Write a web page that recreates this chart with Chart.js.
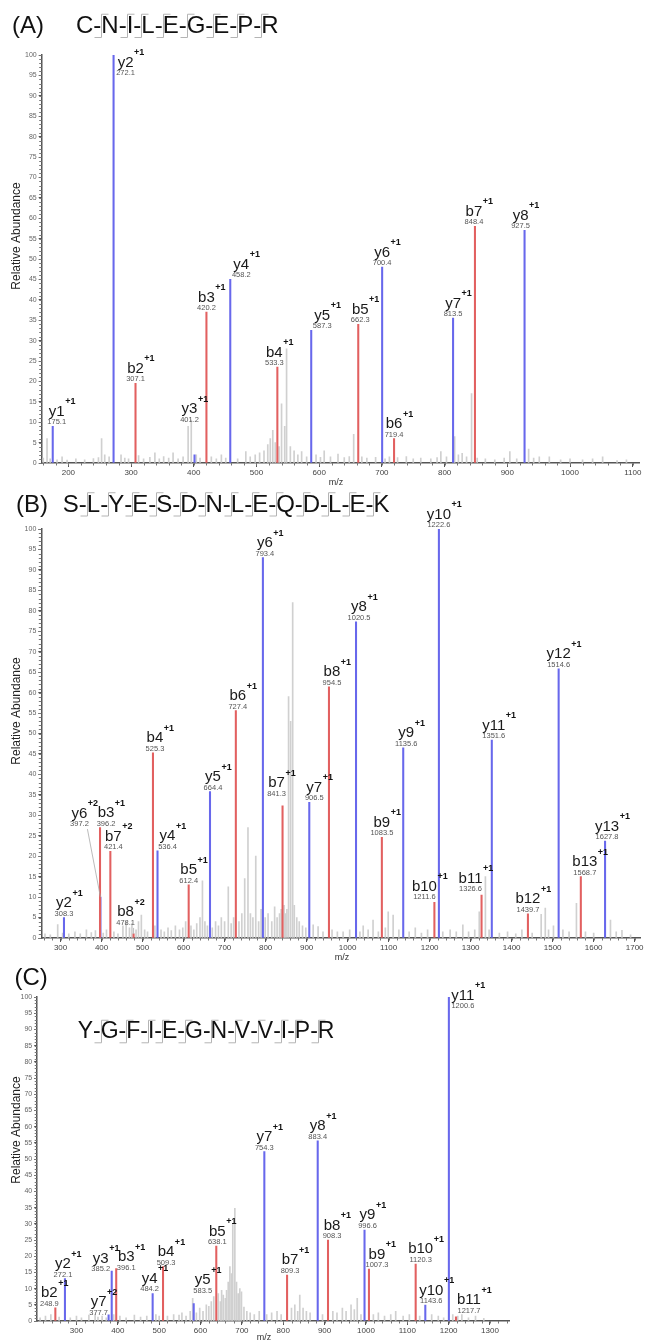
<!DOCTYPE html>
<html lang="en">
<head>
<meta charset="UTF-8">
<title>MS/MS spectra</title>
<script src="https://cdn.jsdelivr.net/npm/chart.js"></script>
<style>
  body { margin: 0; background: #fff; width: 647px; height: 1344px; overflow: hidden; position: relative; }
  canvas { position: absolute; left: 0; }
</style>
</head>
<body>
<canvas id="chartA" width="647" height="490" style="top:0"></canvas>
<canvas id="chartB" width="647" height="470" style="top:490px"></canvas>
<canvas id="chartC" width="647" height="384" style="top:960px"></canvas>
<script>
const FONT = '"Liberation Sans", Arial, Helvetica, sans-serif';
const RED = 'rgb(226,96,96)';
const BLUE = 'rgb(104,104,236)';
const GRAY = 'rgb(208,208,208)';

const yTicks = [0, 5, 10, 15, 20, 25, 30, 35, 40, 45, 50, 55, 60, 65, 70, 75, 80, 85, 90, 95, 100];

// (A) C-N-I-L-E-G-E-P-R
const seqA = ['C', 'N', 'I', 'L', 'E', 'G', 'E', 'P', 'R'];
const ionA = ['y1', 'y2', 'b2', 'y3', 'b3', 'y4', 'b4', 'y5', 'b5', 'y6', 'b6', 'y7', 'b7', 'y8'];
const chargeA = ['+1', '+1', '+1', '+1', '+1', '+1', '+1', '+1', '+1', '+1', '+1', '+1', '+1', '+1'];
const ionMzA = [175.1, 272.1, 307.1, 401.2, 420.2, 458.2, 533.3, 587.3, 662.3, 700.4, 719.4, 813.5, 848.4, 927.5];
const ionIntA = [9, 100, 19.5, 2, 37, 45, 23.5, 32.5, 34, 48, 6, 35.5, 58, 57];
const noiseMzA = [160, 166, 171, 182, 190, 198, 212, 226, 240, 248, 253, 258, 265, 284, 290, 296, 312, 320, 330, 338,
  345, 352, 360, 367, 375, 383, 391, 396, 404, 410, 428, 436, 444, 451, 470, 483, 490, 498, 505, 512,
  518, 522, 526, 530, 536, 540, 545, 548, 554, 560, 566, 572, 580, 595, 602, 608, 618, 630, 640, 648,
  655, 668, 676, 690, 705, 712, 725, 739, 750, 762, 778, 788, 794, 803, 816, 822, 828, 835, 843, 852,
  865, 880, 895, 904, 915, 934, 942, 951, 967, 985, 1000, 1020, 1036, 1052, 1075, 1090];
const noiseIntA = [1.2, 6, 1, 0.8, 1.5, 0.7, 1, 0.8, 1.1, 1.3, 6, 2, 1.5, 2, 1.2, 1, 1.8, 1, 1.4, 2.5,
  1, 1.6, 1.2, 2.5, 1, 1.5, 9, 10.5, 2, 1.2, 1.5, 1, 2, 1.2, 1, 2.8, 1.5, 2, 2.5, 3,
  4.5, 6, 8, 5, 4, 14.5, 9, 28, 4, 3, 2, 2.8, 1.5, 2, 1.4, 3, 1.5, 2.2, 1.3, 1.6,
  7, 1.5, 1.2, 1.4, 1, 1.5, 1.3, 1.6, 1, 1.2, 1, 1.3, 2.8, 1.5, 6.5, 2, 2.4, 1.5, 17, 1.2,
  1, 0.8, 1.2, 2.8, 1, 3.4, 1.2, 1.5, 1.5, 0.8, 1, 0.8, 1, 1.5, 0.6, 0.8];
const xTicksA = [200, 300, 400, 500, 600, 700, 800, 900, 1000, 1100];

// (B) S-L-Y-E-S-D-N-L-E-Q-D-L-E-K
const seqB = ['S', 'L', 'Y', 'E', 'S', 'D', 'N', 'L', 'E', 'Q', 'D', 'L', 'E', 'K'];
const ionB = ['y2', 'y6', 'b3', 'b7', 'b8', 'b4', 'y4', 'b5', 'y5', 'b6', 'y6', 'b7', 'y7', 'b8', 'y8', 'b9', 'y9',
  'b10', 'y10', 'b11', 'y11', 'b12', 'y12', 'b13', 'y13'];
const chargeB = ['+1', '+2', '+1', '+2', '+2', '+1', '+1', '+1', '+1', '+1', '+1', '+1', '+1', '+1', '+1', '+1', '+1',
  '+1', '+1', '+1', '+1', '+1', '+1', '+1', '+1'];
const ionMzB = [308.3, 397.2, 396.2, 421.4, 478.1, 525.3, 536.4, 612.4, 664.4, 727.4, 793.4, 841.3, 906.5, 954.5,
  1020.5, 1083.5, 1135.6, 1211.6, 1222.6, 1326.6, 1351.6, 1439.7, 1514.6, 1568.7, 1627.8];
const ionIntB = [5, 10, 27, 21.2, 1, 45.3, 21.3, 13, 35.8, 55.6, 93, 32.3, 33.2, 61.4, 77.3, 24.6, 46.5, 8.7, 100,
  10.5, 48.4, 5.9, 65.8, 15, 23.7];
const noiseMzB = [262, 275, 293, 305, 320, 335, 348, 363, 375, 385, 404, 412, 430, 440, 452, 460, 468, 474, 484, 490,
  497, 505, 512, 530, 545, 553, 562, 570, 580, 590, 598, 605, 618, 625, 632, 640, 646, 652, 658, 670,
  678, 685, 692, 700, 709, 716, 722, 735, 742, 749, 757, 763, 769, 776, 783, 789, 799, 806, 815, 822,
  828, 834, 838, 845, 848, 852, 856, 861, 866, 870, 876, 882, 890, 898, 916, 928, 940, 962, 975, 989,
  1005, 1030, 1038, 1050, 1062, 1075, 1092, 1099, 1111, 1125, 1150, 1165, 1180, 1195, 1232, 1250, 1265, 1281, 1295, 1310,
  1321, 1336, 1345, 1370, 1390, 1410, 1425, 1450, 1472, 1482, 1490, 1502, 1525, 1540, 1558, 1580, 1600, 1641, 1655, 1669,
  1690];
const noiseIntB = [1, 0.8, 3.3, 1.2, 1, 1.5, 1, 2, 1.3, 1.8, 1.2, 2, 1.5, 1, 3, 4, 2.5, 3.5, 2, 4,
  5.6, 2, 1.5, 3, 2, 1.5, 2.5, 1.8, 3, 2, 2.5, 4, 3, 2, 3.5, 5, 14, 4, 3, 2.5,
  4, 3, 5, 4, 12.5, 3.5, 5, 4, 6, 14.5, 27, 6, 5, 20, 4, 7, 5, 6, 4, 7.6,
  5, 6, 7, 8, 6, 7, 59, 53, 82, 8, 5, 4, 3, 2.5, 3.2, 2.8, 1.5, 2, 1.5, 1.5,
  2, 1.5, 3, 2, 4.4, 1.5, 2.5, 6.4, 5.6, 2, 1.5, 2.5, 1.2, 2, 1.5, 2, 1.5, 3.2, 1.5, 2,
  6.4, 15, 2, 1.2, 1.5, 1, 2, 1.2, 5.8, 7.3, 2, 3, 2, 1.5, 8.5, 1.5, 1.2, 4.4, 1.5, 1.9,
  0.8];
const xTicksB = [300, 400, 500, 600, 700, 800, 900, 1000, 1100, 1200, 1300, 1400, 1500, 1600, 1700];

// (C) Y-G-F-I-E-G-N-V-V-I-P-R
const seqC = ['Y', 'G', 'F', 'I', 'E', 'G', 'N', 'V', 'V', 'I', 'P', 'R'];
const ionC = ['b2', 'y2', 'y7', 'y3', 'b3', 'y4', 'b4', 'y5', 'b5', 'y7', 'b7', 'y8', 'b8', 'y9', 'b9', 'b10', 'y10', 'y11', 'b11'];
const chargeC = ['+1', '+1', '+2', '+1', '+1', '+1', '+1', '+1', '+1', '+1', '+1', '+1', '+1', '+1', '+1', '+1', '+1', '+1', '+1'];
const ionMzC = [248.9, 272.1, 377.7, 385.2, 396.1, 484.2, 509.3, 583.5, 638.1, 754.3, 809.3, 883.4, 908.3, 996.6,
  1007.3, 1120.3, 1143.6, 1200.6, 1217.7];
const ionIntC = [4.1, 13.1, 1.9, 15.4, 16.2, 8.5, 16.8, 5.4, 23.1, 52.3, 14.2, 55.6, 25, 28.1, 16, 17.6, 4.9, 100, 1.3];
const noiseMzC = [212, 225, 238, 258, 285, 300, 312, 330, 345, 352, 362, 372, 390, 405, 420, 440, 455, 470, 492, 500,
  520, 535, 548, 555, 565, 575, 581, 590, 598, 606, 614, 620, 626, 632, 643, 648, 651, 655, 660, 663,
  667, 671, 675, 678, 683, 687, 691, 695, 699, 705, 712, 720, 730, 742, 760, 772, 785, 795, 820, 828,
  835, 840, 848, 856, 865, 895, 920, 930, 943, 952, 964, 972, 979, 988, 1018, 1030, 1045, 1060, 1072, 1090,
  1105, 1130, 1159, 1175, 1188, 1210, 1222, 1232, 1248, 1265, 1285];
const noiseIntC = [1, 1.5, 2, 1.2, 1, 1.5, 1, 1.8, 2, 1.2, 1.5, 1, 2, 1.5, 1, 1.8, 1.2, 1.5, 2, 1.5,
  1.5, 2, 1.8, 2.5, 1.5, 3, 7, 2.5, 4, 3, 5, 4.5, 6, 7.5, 8.5, 6, 9.5, 8, 7, 9.5,
  12, 16.8, 14.6, 30, 34.8, 12, 8.5, 10, 9, 4.3, 3, 2.5, 2, 3, 2, 2.5, 3, 2, 4, 5,
  3, 8, 4, 3, 2.5, 2, 3, 2.5, 4, 3, 5, 3.5, 7, 2, 2, 2.5, 1.5, 2, 3, 1.5,
  2, 1.5, 2, 1.5, 1, 2, 1.5, 2, 1, 1.5, 0.8];
const xTicksC = [300, 400, 500, 600, 700, 800, 900, 1000, 1100, 1200, 1300];

// label placement tweaks (px): [dx, dy, leader line]
const nudgeA = { 'y1+1': [4, 0], 'y2+1': [12, 22], 'y3+1': [-5, -31], 'y4+1': [11, 0], 'b4+1': [-3, 0],
  'y5+1': [11, 0], 'b5+1': [2, 0], 'b7+1': [-1, 0], 'y8+1': [-4, 0] };
const nudgeB = { 'y6+2': [-21, -69, 1], 'b3+1': [6, 0], 'b7+2': [3, 0], 'b8+2': [-8, -7, 1], 'b4+1': [2, 0],
  'y4+1': [10, 0], 'y5+1': [3, 0], 'b6+1': [2, 0], 'y6+1': [2, 0], 'b7+1': [-6, -8], 'y7+1': [5, 0],
  'b8+1': [3, 0], 'y8+1': [3, 0], 'y9+1': [3, 0], 'b10+1': [-10, -1], 'b11+1': [-11, -2], 'y11+1': [2, 0],
  'b13+1': [4, 0], 'y13+1': [2, 0] };
const nudgeC = { 'b2+1': [-6, 0], 'y2+1': [-2, 0], 'y7+2': [-10, 2], 'y3+1': [-11, 2], 'b3+1': [10, 3],
  'y4+1': [-3, 0], 'b4+1': [3, 0], 'y5+1': [9, -9], 'b5+1': [1, 0], 'b7+1': [3, 0], 'b8+1': [4, 0],
  'y9+1': [3, 0], 'b9+1': [8, 0], 'b10+1': [5, 0], 'y10+1': [6, 0], 'y11+1': [14, 13], 'b11+1': [13, -2] };

const panels = [
  { id: 'chartA', letter: '(A)', seq: seqA, ions: ionA, charges: chargeA, mz: ionMzA, int: ionIntA,
    noiseMz: noiseMzA, noiseInt: noiseIntA, xTicks: xTicksA, nudge: nudgeA,
    xMin: 157.5, xMax: 1110, yW: 41.7, padT: 55, padR: 8, xH: 27,
    letterPos: [12, 33], seqPos: [76, 33], seqSize: 24, yTitle: [16.5, 236], mzPos: [336, 483] },
  { id: 'chartB', letter: '(B)', seq: seqB, ions: ionB, charges: chargeB, mz: ionMzB, int: ionIntB,
    noiseMz: noiseMzB, noiseInt: noiseIntB, xTicks: xTicksB, nudge: nudgeB,
    xMin: 253, xMax: 1713, yW: 41.3, padT: 39, padR: 7, xH: 22,
    letterPos: [16, 21.5], seqPos: [62.8, 21.5], seqSize: 24, yTitle: [17, 221], mzPos: [342, 468] },
  { id: 'chartC', letter: '(C)', seq: seqC, ions: ionC, charges: chargeC, mz: ionMzC, int: ionIntC,
    noiseMz: noiseMzC, noiseInt: noiseIntC, xTicks: xTicksC, nudge: nudgeC,
    xMin: 205, xMax: 1346, yW: 37.2, padT: 37, padR: 138, xH: 23,
    letterPos: [14.5, 25], seqPos: [77.7, 78.3], seqSize: 23, yTitle: [16.5, 170], mzPos: [264, 378] }
];

Chart.defaults.font.family = FONT;

function drawSequence(ctx, seq, x0, base, size) {
  ctx.font = size + 'px ' + FONT;
  ctx.textAlign = 'left';
  ctx.textBaseline = 'alphabetic';
  const cap = size * 0.72;
  const dash = ctx.measureText('-').width;
  let x = x0;
  seq.forEach((aa, i) => {
    ctx.fillStyle = '#111';
    ctx.fillText(aa, x, base);
    x += ctx.measureText(aa).width;
    if (i === seq.length - 1) return;
    ctx.fillText('-', x, base);
    x += dash;
    // fragment bracket
    const bx = Math.round(x) + 0.5;
    ctx.strokeStyle = '#b4b4b4';
    ctx.lineWidth = 1;
    ctx.beginPath();
    ctx.moveTo(bx + 7, base - cap - 1.5);
    ctx.lineTo(bx, base - cap - 1.5);
    ctx.lineTo(bx, base + 4.5);
    ctx.lineTo(bx - 7, base + 4.5);
    ctx.stroke();
  });
}

function drawIon(ctx, px, top, name, charge, mz, nd) {
  const dx = nd ? nd[0] : 0, dy = nd ? nd[1] : 0;
  const cx = px + dx, base = top + dy;
  ctx.textBaseline = 'alphabetic';
  ctx.font = '15px ' + FONT;
  ctx.textAlign = 'center';
  ctx.fillStyle = '#1a1a1a';
  ctx.fillText(name, cx, base - 10.5);
  const w = ctx.measureText(name).width;
  ctx.font = 'bold 9px ' + FONT;
  ctx.textAlign = 'left';
  ctx.fillStyle = '#111';
  ctx.fillText(charge, cx + w / 2 + 0.5, base - 22);
  ctx.font = '7.5px ' + FONT;
  ctx.textAlign = 'center';
  ctx.fillStyle = '#555';
  ctx.fillText(mz.toFixed(1), cx, base - 2);
  if (nd && nd[2]) {
    ctx.strokeStyle = '#aaa';
    ctx.lineWidth = 0.8;
    ctx.beginPath();
    ctx.moveTo(cx + 8, base + 1);
    ctx.lineTo(px, top);
    ctx.stroke();
  }
}

function spectrumText(P) {
  return {
    id: 'spectrumText',
    afterDraw(chart) {
      const ctx = chart.ctx, xs = chart.scales.x, ys = chart.scales.y, area = chart.chartArea;
      ctx.save();
      // minor ticks
      ctx.strokeStyle = '#777';
      ctx.lineWidth = 1;
      ctx.beginPath();
      for (let v = 0; v <= 100; v++) {
        const py = Math.round(ys.getPixelForValue(v)) + 0.5;
        ctx.moveTo(area.left - 2.5, py);
        ctx.lineTo(area.left, py);
      }
      for (let m = Math.ceil(xs.min / 20) * 20; m <= xs.max; m += 20) {
        const px = Math.round(xs.getPixelForValue(m)) + 0.5;
        ctx.moveTo(px, area.bottom);
        ctx.lineTo(px, area.bottom + 2.5);
      }
      ctx.stroke();

      // ion annotations
      P.ions.forEach((name, i) => {
        const key = name + P.charges[i];
        drawIon(ctx, xs.getPixelForValue(P.mz[i]), ys.getPixelForValue(P.int[i]),
          name, P.charges[i], P.mz[i], P.nudge[key]);
      });

      // panel letter and peptide
      ctx.font = '24px ' + FONT;
      ctx.textAlign = 'left';
      ctx.textBaseline = 'alphabetic';
      ctx.fillStyle = '#111';
      ctx.fillText(P.letter, P.letterPos[0], P.letterPos[1]);
      drawSequence(ctx, P.seq, P.seqPos[0], P.seqPos[1], P.seqSize);

      // axis titles
      ctx.save();
      ctx.translate(P.yTitle[0], P.yTitle[1]);
      ctx.rotate(-Math.PI / 2);
      ctx.font = '12px ' + FONT;
      ctx.textAlign = 'center';
      ctx.textBaseline = 'middle';
      ctx.fillStyle = '#222';
      ctx.fillText('Relative Abundance', 0, 0);
      ctx.restore();
      ctx.font = '9px ' + FONT;
      ctx.textAlign = 'center';
      ctx.textBaseline = 'middle';
      ctx.fillStyle = '#333';
      ctx.fillText('m/z', P.mzPos[0], P.mzPos[1]);
      ctx.restore();
    }
  };
}

function buildChart(P) {
  const bData = [], yData = [];
  P.ions.forEach((name, i) => {
    const pt = { x: P.mz[i], y: P.int[i] };
    (name[0] === 'b' ? bData : yData).push(pt);
  });
  const noise = P.noiseMz.map((m, i) => ({ x: m, y: P.noiseInt[i] }));

  new Chart(document.getElementById(P.id), {
    type: 'bar',
    data: {
      datasets: [
        { data: bData, backgroundColor: RED, barThickness: 1.4, grouped: false },
        { data: yData, backgroundColor: BLUE, barThickness: 1.4, grouped: false },
        { data: noise, backgroundColor: GRAY, barThickness: 1, grouped: false }
      ]
    },
    options: {
      responsive: false,
      animation: false,
      devicePixelRatio: 1,
      layout: { padding: { left: 0, right: P.padR, top: P.padT, bottom: 0 } },
      plugins: { legend: { display: false }, tooltip: { enabled: false } },
      scales: {
        x: {
          type: 'linear', min: P.xMin, max: P.xMax, offset: false,
          afterBuildTicks: s => { s.ticks = P.xTicks.map(v => ({ value: v })); },
          afterFit: s => { s.height = P.xH; },
          grid: { drawOnChartArea: false, drawTicks: true, tickLength: 4, color: '#555', offset: false },
          border: { display: true, color: '#555', width: 1.5 },
          ticks: { font: { size: 8 }, color: '#444', padding: 1, maxRotation: 0, autoSkip: false,
            callback: v => String(v) }
        },
        y: {
          min: 0, max: 100,
          afterBuildTicks: s => { s.ticks = yTicks.map(v => ({ value: v })); },
          afterFit: s => { s.width = P.yW; },
          grid: { drawOnChartArea: false, drawTicks: true, tickLength: 3, color: '#555' },
          border: { display: true, color: '#555', width: 1.5 },
          ticks: { font: { size: 7 }, color: '#666', padding: 2, autoSkip: false,
            callback: v => String(v) }
        }
      }
    },
    plugins: [spectrumText(P)]
  });
}

panels.forEach(buildChart);
</script>
</body>
</html>
